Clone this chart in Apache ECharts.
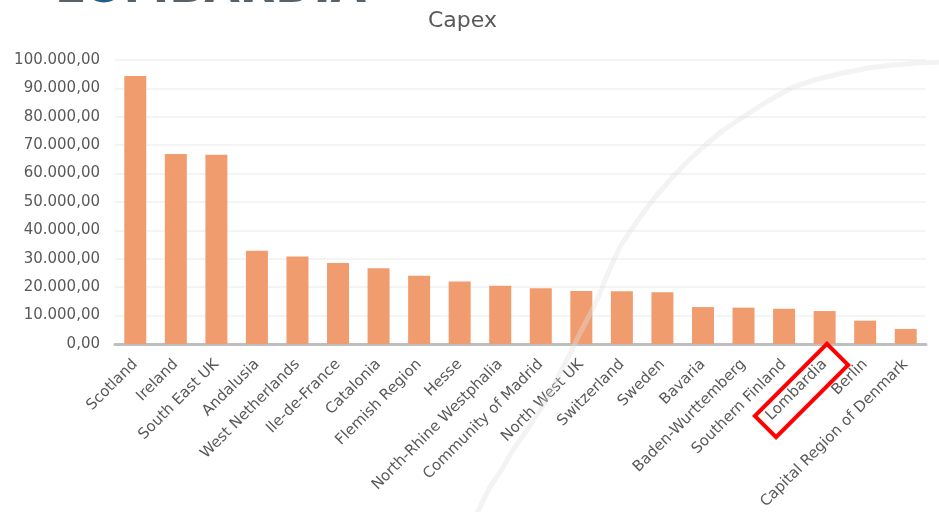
<!DOCTYPE html>
<html>
<head>
<meta charset="utf-8">
<script src="https://cdn.jsdelivr.net/npm/echarts@6/dist/echarts.min.js"></script>
<style>html,body{margin:0;padding:0;background:#fff}#c{width:939px;height:512px}</style>
</head>
<body>
<div id="c"></div>
<script>
const categories = ["Scotland","Ireland","South East UK","Andalusia","West Netherlands","Ile-de-France","Catalonia","Flemish Region","Hesse","North-Rhine Westphalia","Community of Madrid","North West UK","Switzerland","Sweden","Bavaria","Baden-Wurttemberg","Southern Finland","Lombardia","Berlin","Capital Region of Denmark"];
const capex = [94400, 66900, 66600, 32800, 30800, 28500, 26700, 24000, 22000, 20500, 19600, 18700, 18600, 18200, 13000, 12800, 12400, 11600, 8200, 5300];
const yTicks = [0, 10000, 20000, 30000, 40000, 50000, 60000, 70000, 80000, 90000, 100000];

function fmt(v){
  const s = Math.round(v).toString().replace(/\B(?=(\d{3})+(?!\d))/g, '.');
  return s + ',00';
}

const chart = echarts.init(document.getElementById('c'), null, {renderer:'canvas'});
const arcPts = [[945,62],[918,63],[893,65],[868,68],[843,73],[818,79],[793,87],[768,101],[743,117],[722,131],[703,147],[686,163],[670,180],[656,196],[643,213],[631,230],[620,247],[608,273],[597,300],[589,316],[580,333],[572,350],[563,367],[552,389],[540,410],[527,430],[513,450],[502,469],[490,487],[476,515]];
chart.setOption({
  animation:false,
  backgroundColor:'#fff',
  title:{text:'Capex', left:423, top:5, textStyle:{fontFamily:'DejaVu Sans', fontSize:22, fontWeight:'normal', color:'#595959'}},
  grid:{left:115, right:13, top:60, bottom:168, containLabel:false},
  xAxis:{type:'category', data:categories,
    axisLine:{lineStyle:{color:'#bfbfbf', width:3}},
    axisTick:{show:false},
    axisLabel:{rotate:45, interval:0, margin:18, fontFamily:'DejaVu Sans', fontSize:15, color:'#595959'}},
  yAxis:{type:'value', min:yTicks[0], max:yTicks[yTicks.length-1], interval:10000,
    axisLine:{show:false}, axisTick:{show:false},
    splitLine:{lineStyle:{color:'#f0f0f0', width:1.5}},
    axisLabel:{formatter:fmt, margin:15, fontFamily:'DejaVu Sans', fontSize:15, color:'#595959'}},
  series:[{type:'bar', data:capex, barWidth:22, itemStyle:{color:'#f09c6f'}}],
  graphic:[
    {type:'polyline', z:100, silent:true, shape:{points:arcPts, smooth:false}, style:{stroke:'rgba(225,225,225,0.4)', lineWidth:5, fill:null, lineJoin:'round'}},
    {type:'rect', z:101, x:801.5, y:390.5, rotation:Math.PI/4, shape:{x:-51, y:-15, width:102, height:30}, style:{stroke:'#ff0000', lineWidth:4, fill:null}},
    {type:'text', z:50, x:55, y:13, style:{text:'L{b|O}MBARDIA', fontFamily:'DejaVu Sans', fontWeight:'bold', fontSize:46, fill:'#56626b', verticalAlign:'bottom', rich:{b:{fontFamily:'DejaVu Sans', fontWeight:'bold', fontSize:46, fill:'#1f5f86'}}}}
  ]
});
</script>
</body>
</html>
